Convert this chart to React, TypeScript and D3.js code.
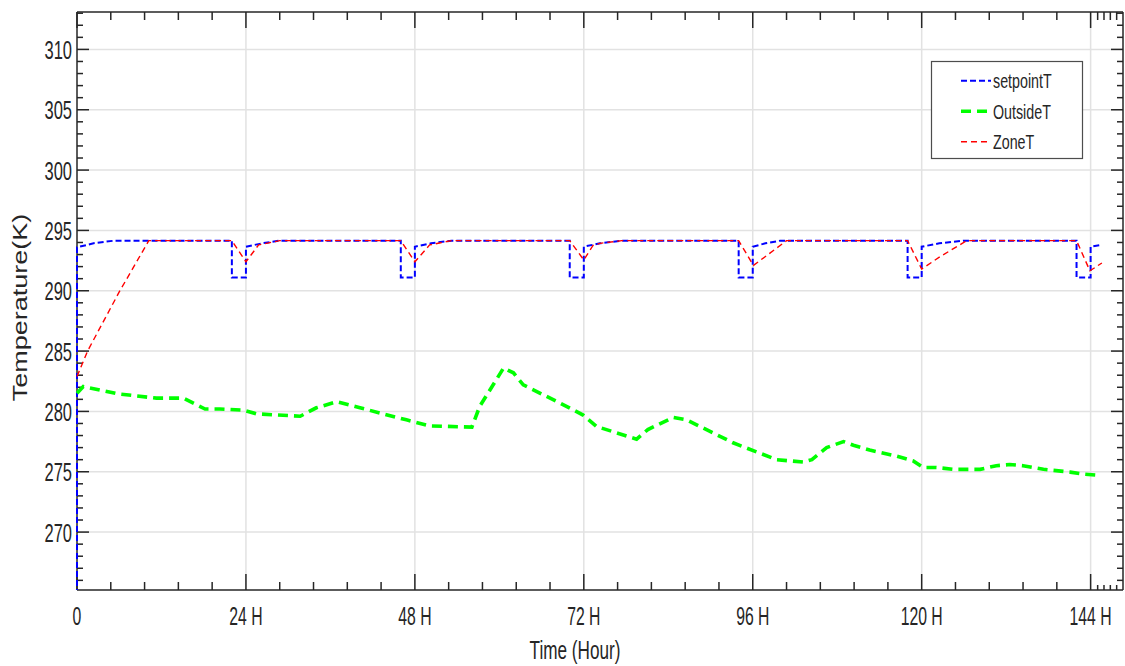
import React from "react";
import * as d3 from "d3";

// ---------- data ----------
const setpointHours = [0, 0, 2.5, 5.3, 22, 22, 24, 24, 26.3, 28.8, 46, 46, 48, 48, 50.3, 53.2, 70, 70, 72, 72, 74.3, 77.4, 94, 94, 96, 96, 97.8, 99.9, 118, 118, 120, 120, 122.5, 125.9, 142, 142, 144, 144, 145.5];
const setpointTemps = [0, 293.6, 293.95, 294.15, 294.15, 291.1, 291.1, 293.65, 293.93, 294.15, 294.15, 291.1, 291.1, 293.65, 293.93, 294.15, 294.15, 291.1, 291.1, 293.65, 293.93, 294.15, 294.15, 291.1, 291.1, 293.65, 293.93, 294.15, 294.15, 291.1, 291.1, 293.65, 293.93, 294.15, 294.15, 291.1, 291.1, 293.65, 293.8];

const zoneHours = [0, 1.5, 6, 10.2, 22, 24, 25.8, 28.8, 46, 48, 50.1, 53.2, 70, 72, 73.3, 74.3, 77.4, 94, 96.1, 100.8, 118, 120, 122.6, 126.4, 142, 143.9, 145.6];
const zoneTemps = [282.9, 285, 289.9, 294.15, 294.15, 292.4, 293.8, 294.15, 294.15, 292.4, 293.8, 294.15, 294.15, 292.55, 293.75, 293.93, 294.15, 294.15, 292.1, 294.15, 294.15, 291.8, 292.82, 294.15, 294.15, 291.65, 292.3];

const outsideHours = [0, 0.9, 5.9, 11.3, 15.1, 18.2, 20.3, 23.6, 25.5, 31.7, 34.0, 36.9, 40.2, 46.8, 50.1, 56.1, 57.2, 60.6, 62.0, 63.4, 68.6, 71.9, 73.8, 79.5, 81.1, 84.7, 86.6, 93.2, 99.4, 103.2, 104.4, 106.5, 108.9, 110.3, 112.6, 116.4, 118.8, 120.2, 122.1, 124.5, 128.3, 130.6, 132.5, 134.4, 137.3, 141.1, 143.0, 145.3];
const outsideTemps = [281.5, 282.06, 281.45, 281.1, 281.1, 280.2, 280.2, 280.1, 279.8, 279.6, 280.3, 280.8, 280.3, 279.3, 278.8, 278.7, 280.4, 283.6, 283.2, 282.2, 280.7, 279.7, 278.75, 277.7, 278.5, 279.5, 279.3, 277.4, 276.0, 275.8, 276.0, 277.0, 277.5, 277.2, 276.8, 276.3, 275.9, 275.35, 275.35, 275.2, 275.2, 275.5, 275.6, 275.5, 275.2, 274.97, 274.8, 274.7];

const xTickValues = [0, 24, 48, 72, 96, 120, 144];
const xTickLabels = ["0", "24 H", "48 H", "72 H", "96 H", "120 H", "144 H"];
const yTickValues = [270, 275, 280, 285, 290, 295, 300, 305, 310];
const yTickLabels = ["270", "275", "280", "285", "290", "295", "300", "305", "310"];
const xExtraTicks = [145, 145.9, 146.8, 147.7];

const seriesNames = ["setpointT", "OutsideT", "ZoneT"];

// ---------- layout ----------
const W = 1125, H = 666;
const X0 = 77, X1 = 1123, Y0 = 590, Y1 = 12;
const FONT = "'Liberation Sans', Arial, Helvetica, sans-serif";
const TXT = "#262626";
const SX = 0.64;

type P = { h: number; t: number };
const zip = (hs: number[], ts: number[]): P[] => hs.map((h, i) => ({ h, t: ts[i] }));

const styles = [
  { color: "#0000ff", width: 2, dash: "6,3" },
  { color: "#00ff00", width: 3.6, dash: "10,6" },
  { color: "#ff0000", width: 1.4, dash: "6,4" },
];

function SqText(props: { x: number; y: number; size: number; anchor?: string; sx?: number; rotate?: number; children: string }) {
  const { x, y, size, anchor = "start", sx = SX, rotate = 0, children } = props;
  return (
    <text
      transform={`translate(${x},${y}) scale(${sx},1) rotate(${rotate})`}
      fontFamily={FONT}
      fontSize={size}
      fill={TXT}
      textAnchor={anchor}
    >
      {children}
    </text>
  );
}

export default function App() {
  const x = d3.scaleLinear().domain([0, 148.6]).range([X0, X1]);
  const y = d3.scaleLinear().domain([265.2, 313.1]).range([Y0, Y1]);

  const line = d3
    .line<P>()
    .x((d) => x(d.h))
    .y((d) => y(d.t));

  const data = [
    zip(setpointHours, setpointTemps),
    zip(outsideHours, outsideTemps),
    zip(zoneHours, zoneTemps),
  ];

  const yMinor = d3.range(266, 314, 1).filter((v) => v % 5 !== 0);
  const xMinor = d3.range(0, 144.01, 4.8).filter((v) => Math.abs(v / 24 - Math.round(v / 24)) > 1e-6);

  const gridColor = "#e2e2e2";

  return (
    <svg width={W} height={H} style={{ position: "absolute", left: 0, top: 0, background: "#fff" }}>
      <defs>
        <clipPath id="plotclip">
          <rect x={X0 - 1.5} y={Y1} width={X1 - X0 + 1.5} height={Y0 - Y1} />
        </clipPath>
      </defs>
      <rect x={0} y={0} width={W} height={H} fill="#fff" />

      {/* grid */}
      <g stroke={gridColor} strokeWidth={1.5}>
        {yTickValues.map((v) => (
          <line key={"gy" + v} x1={X0} x2={X1} y1={y(v)} y2={y(v)} />
        ))}
        {xTickValues.filter((v) => v > 0).map((v) => (
          <line key={"gx" + v} x1={x(v)} x2={x(v)} y1={Y1} y2={Y0} />
        ))}
      </g>

      {/* axes box and ticks */}
      <g stroke={TXT} strokeWidth={1.5} fill="none">
        <line x1={X0} x2={X0} y1={Y1} y2={Y0} />
        <line x1={X1} x2={X1} y1={Y1} y2={Y0} />
        <line x1={X0} x2={X1} y1={Y0} y2={Y0} />
        <line x1={X0} x2={X1} y1={Y1} y2={Y1} />
        {yTickValues.map((v) => (
          <g key={"yt" + v}>
            <line x1={X0} x2={X0 + 12} y1={y(v)} y2={y(v)} />
            <line x1={X1} x2={X1 - 12} y1={y(v)} y2={y(v)} />
          </g>
        ))}
        {yMinor.map((v) => (
          <g key={"ym" + v}>
            <line x1={X0} x2={X0 + 6} y1={y(v)} y2={y(v)} />
            <line x1={X1} x2={X1 - 6} y1={y(v)} y2={y(v)} />
          </g>
        ))}
        {xTickValues.map((v) => (
          <g key={"xt" + v}>
            <line x1={x(v)} x2={x(v)} y1={Y0} y2={Y0 - 16} />
            <line x1={x(v)} x2={x(v)} y1={Y1} y2={Y1 + 16} />
          </g>
        ))}
        {xMinor.map((v) => (
          <g key={"xm" + v}>
            <line x1={x(v)} x2={x(v)} y1={Y0} y2={Y0 - 8} />
            <line x1={x(v)} x2={x(v)} y1={Y1} y2={Y1 + 8} />
          </g>
        ))}
        {xExtraTicks.map((v) => (
          <g key={"xe" + v}>
            <line x1={x(v)} x2={x(v)} y1={Y0} y2={Y0 - 5} />
            <line x1={x(v)} x2={x(v)} y1={Y1} y2={Y1 + 8} />
          </g>
        ))}
      </g>

      {/* series */}
      <g clipPath="url(#plotclip)" fill="none">
        {data.map((d, i) => (
          <path
            key={seriesNames[i]}
            d={line(d) || ""}
            stroke={styles[i].color}
            strokeWidth={styles[i].width}
            strokeDasharray={styles[i].dash}
          />
        ))}
      </g>

      {/* tick labels */}
      {yTickValues.map((v, i) => (
        <SqText key={"yl" + v} x={72} y={y(v) + 9.5} size={25} anchor="end" sx={0.66}>
          {yTickLabels[i]}
        </SqText>
      ))}
      {xTickValues.map((v, i) => (
        <SqText key={"xl" + v} x={x(v)} y={625} size={25} anchor="middle" sx={0.63}>
          {xTickLabels[i]}
        </SqText>
      ))}

      {/* axis titles */}
      <SqText x={575} y={659} size={26} anchor="middle" sx={0.66}>
        Time (Hour)
      </SqText>
      <SqText x={27} y={307.5} size={27} anchor="middle" sx={0.75} rotate={-90}>
        Temperature(K)
      </SqText>

      {/* legend */}
      <rect x={931.5} y={61.5} width={151} height={97} fill="#fff" stroke="#4d4d4d" strokeWidth={1.2} />
      {seriesNames.map((name, i) => {
        const ly = 80.7 + i * 30.5;
        return (
          <g key={"lg" + name}>
            <line
              x1={961}
              x2={991}
              y1={ly}
              y2={ly}
              stroke={styles[i].color}
              strokeWidth={styles[i].width}
              strokeDasharray={styles[i].dash}
            />
            <SqText x={993} y={ly + 7.5} size={21} sx={0.68}>
              {name}
            </SqText>
          </g>
        );
      })}
    </svg>
  );
}
